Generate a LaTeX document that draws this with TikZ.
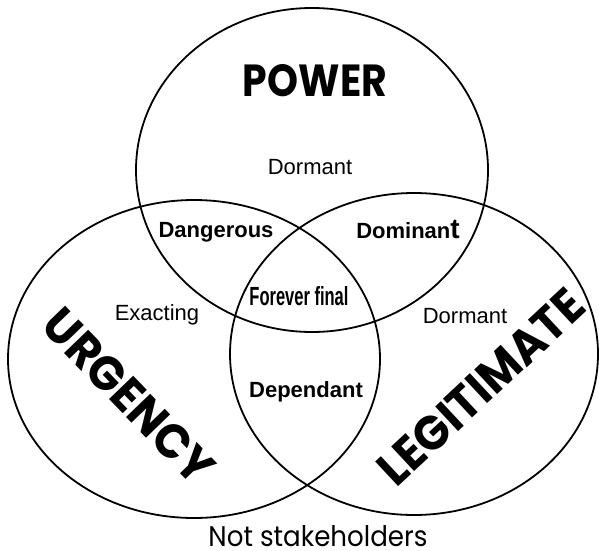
\documentclass[tikz,border=0pt]{standalone}
\usepackage{fontspec}
\setmainfont{Liberation Sans}
\newfontfamily\geofont{Poppins}
\usepackage{graphicx}

\begin{document}
\begin{tikzpicture}[x=1pt, y=1pt,
  ring/.style={line width=1.8pt},
  lbl/.style={anchor=base, inner sep=0pt, font=\fontsize{22}{22}\selectfont},
  blbl/.style={lbl, font=\fontsize{22}{22}\selectfont\bfseries},
  big/.style={inner sep=0pt, font=\geofont\bfseries}]
\useasboundingbox (0,0) rectangle (599,550);
% the three attribute sets
\draw[ring] (312,380) ellipse [x radius=176, y radius=162];
\draw[ring] (194,191) ellipse [x radius=186, y radius=159];
\draw[ring] (414,196) ellipse [x radius=184, y radius=161];
\node[big] (power) at (315,469) {\resizebox{144pt}{32pt}{POWER}};
\node[big, rotate=-46] (urgency) at (129,154) {\resizebox{222pt}{34pt}{URGENCY}};
\node[big, rotate=43] (legit) at (481,163) {\resizebox{262pt}{34pt}{LEGITIMATE}};
% stakeholder classes
\node[lbl]  (dormp) at (310,376) {Dormant};
\node[blbl] (dang)  at (216,313) {Dangerous};
\node[blbl] (dom)   at (408,312) {Dominan{\fontsize{28}{28}\selectfont t}};
\node[lbl, font=\fontsize{25}{25}\selectfont\bfseries] (final) at (299,245)
  {\scalebox{0.66}[1.05]{Forever final}};
\node[lbl]  (exact) at (157,230) {Exacting};
\node[lbl]  (dorml) at (465,227) {Dormant};
\node[blbl] (dep)   at (306,153) {Dependant};
\node[anchor=base, inner sep=0pt, font=\geofont] (none) at (318,4)
  {\resizebox{219pt}{21pt}{Not stakeholders}};
\end{tikzpicture}
\end{document}
